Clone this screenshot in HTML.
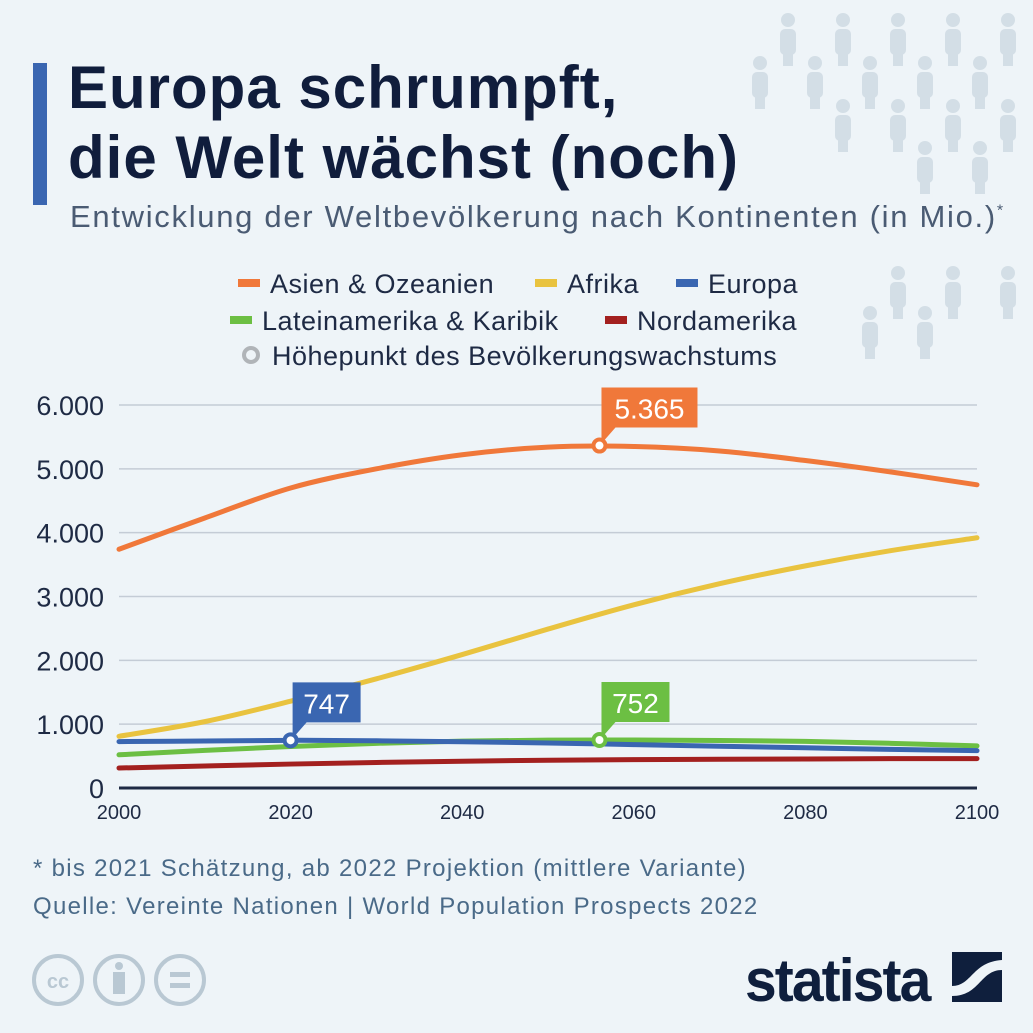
<!DOCTYPE html>
<html><head><meta charset="utf-8">
<style>
html,body{margin:0;padding:0;}
body{width:1033px;height:1033px;background:#eef4f8;position:relative;overflow:hidden;font-family:"Liberation Sans",sans-serif;}
.abs{position:absolute;}
</style></head>
<body>
<svg class="abs" style="left:0;top:0" width="1033" height="1033" id="people"></svg>
<div class="abs" style="left:33px;top:63px;width:14px;height:142px;background:#3a66b1"></div>
<div class="abs" style="left:68px;top:53px;font-size:60px;font-weight:bold;line-height:70px;color:#101d3c;letter-spacing:1px">Europa schrumpft,<br>die Welt wächst (noch)</div>
<div class="abs" style="left:70px;top:199px;font-size:31px;color:#4a5b73;letter-spacing:1.7px">Entwicklung der Weltbevölkerung nach Kontinenten (in Mio.)<sup style="font-size:16px">*</sup></div>

<svg class="abs" style="left:0;top:0" width="1033" height="1033" id="chart"></svg>

<div class="abs" style="left:33px;top:850px;font-size:24px;color:#4a6a88;line-height:38px;letter-spacing:1.3px">* bis 2021 Schätzung, ab 2022 Projektion (mittlere Variante)<br>Quelle: Vereinte Nationen | World Population Prospects 2022</div>

<svg class="abs" style="left:30px;top:952px" width="180" height="56">
 <g fill="none" stroke="#b9c8d3" stroke-width="4">
  <circle cx="28" cy="28" r="24"/><circle cx="89" cy="28" r="24"/><circle cx="150" cy="28" r="24"/>
 </g>
 <text x="28" y="36" font-size="20" font-weight="bold" fill="#b9c8d3" text-anchor="middle" font-family="Liberation Sans">cc</text>
 <circle cx="89" cy="14" r="4" fill="#b9c8d3"/><rect x="83" y="20" width="12" height="22" fill="#b9c8d3"/>
 <rect x="140" y="20" width="20" height="5" fill="#b9c8d3"/><rect x="140" y="31" width="20" height="5" fill="#b9c8d3"/>
</svg>
<div class="abs" style="left:745px;top:946px;font-size:60px;font-weight:bold;color:#0f1f3d;letter-spacing:-2px;transform:scaleX(0.95);transform-origin:left top">statista</div>
<svg class="abs" style="left:952px;top:952px" width="50" height="50">
 <rect width="50" height="50" fill="#0f1f3d"/>
 <path d="M0 34 C20 34 20 10 50 8 L50 18 C28 18 28 44 0 44Z" fill="#eef4f8"/>
</svg>

<script>
const pp=document.getElementById('people');
const people=[[788,32],[843,32],[898,32],[953,32],[1008,32],[760,75],[815,75],[870,75],[925,75],[980,75],[843,118],[898,118],[953,118],[1008,118],[925,160],[980,160],[898,285],[953,285],[1008,285],[870,325],[925,325]];
people.forEach(p=>{
 const g=document.createElementNS('http://www.w3.org/2000/svg','g');
 
 
 g.setAttribute('fill','#d3dee6');
 g.innerHTML=`<circle cx="${p[0]}" cy="${p[1]-12}" r="7"/><rect x="${p[0]-8}" y="${p[1]-3}" width="16" height="26" rx="5"/><rect x="${p[0]-5}" y="${p[1]+18}" width="10" height="16"/>`;
 pp.appendChild(g);
});

const years=[2000,2010,2020,2030,2040,2050,2060,2070,2080,2090,2100];
const asia=[3740,4230,4700,5000,5220,5340,5350,5280,5130,4950,4750];
const africa=[810,1040,1360,1710,2090,2490,2870,3200,3480,3720,3920];
const europe=[727,736,747,740,725,705,680,655,630,605,585];
const latam=[520,590,650,700,735,750,752,745,730,700,660];
const namerica=[313,345,375,400,420,435,445,450,455,460,460];
const yTicks=[0,1000,2000,3000,4000,5000,6000];
const yTickLabels=["0","1.000","2.000","3.000","4.000","5.000","6.000"];
const xTicks=[2000,2020,2040,2060,2080,2100];
const peakYears=[2056,2020,2056];
const peakValues=[5365,747,752];
const peakLabels=["5.365","747","752"];

const svg=document.getElementById('chart');
const NS='http://www.w3.org/2000/svg';
const X=y=>119+(y-2000)*(977-119)/100;
const Y=v=>788-v*(788-405)/6000;
function mk(t,a){const e=document.createElementNS(NS,t);for(const k in a)e.setAttribute(k,a[k]);svg.appendChild(e);return e;}

yTicks.forEach((t,i)=>{
 const l=mk('line',{x1:119,x2:977,y1:Y(t),y2:Y(t),stroke:t===0?'#1e2a44':'#c4ccd6','stroke-width':t===0?3:1.5});
 
 
 const tx=mk('text',{x:104,y:Y(t)+10,'font-size':27,fill:'#1e2a44','text-anchor':'end','font-family':'Liberation Sans'});
 tx.textContent=yTickLabels[i];
 
 
});
xTicks.forEach(t=>{
 const tx=mk('text',{x:X(t),y:819,'font-size':20,fill:'#1e2a44','text-anchor':'middle','font-family':'Liberation Sans'});
 tx.textContent=t;
 
 
});

function path(arr){
 const pts=years.map((y,i)=>[X(y),Y(arr[i])]);
 let d=`M${pts[0][0]},${pts[0][1]}`;
 for(let i=0;i<pts.length-1;i++){
  const p0=pts[Math.max(0,i-1)],p1=pts[i],p2=pts[i+1],p3=pts[Math.min(pts.length-1,i+2)];
  d+=` C${p1[0]+(p2[0]-p0[0])/6},${p1[1]+(p2[1]-p0[1])/6} ${p2[0]-(p3[0]-p1[0])/6},${p2[1]-(p3[1]-p1[1])/6} ${p2[0]},${p2[1]}`;
 }
 return d;
}
const series=[[namerica,'#a3201f','line-nordamerika'],[latam,'#6cbf43','line-lateinamerika'],[europe,'#3a66b1','line-europa'],[africa,'#e9c33f','line-afrika'],[asia,'#f0783a','line-asien']];
series.forEach(s=>{
 const p=mk('path',{d:path(s[0]),fill:'none',stroke:s[1],'stroke-width':5,'stroke-linecap':'round'});
 
 
});

const peakColors=['#f0783a','#3a66b1','#6cbf43'];
peakYears.forEach((yr,i)=>{
 const cx=X(yr),cy=Y(peakValues[i]);
 const w=peakLabels[i].length>3?96:68;
 const bx=cx+2,by=cy-58;
 const g=mk('path',{d:`M${bx},${by} h${w} v40 h${-(w-14)} l-14,16 Z`,fill:peakColors[i]});
 
 
 const t=mk('text',{x:bx+w/2,y:by+31,'font-size':28,fill:'#fff','text-anchor':'middle','font-family':'Liberation Sans'});
 t.textContent=peakLabels[i];
 
 
 const c=mk('circle',{cx:cx,cy:cy,r:6,fill:'#fff',stroke:peakColors[i],'stroke-width':4});
 
 
});

const legend=[["Asien & Ozeanien",'#f0783a',238,284],["Afrika",'#e9c33f',535,284],["Europa",'#3a66b1',676,284],["Lateinamerika & Karibik",'#6cbf43',230,321],["Nordamerika",'#a3201f',605,321]];
legend.forEach(l=>{
 const r=mk('rect',{x:l[2],y:l[3]-5,width:22,height:8,fill:l[1]});
 
 
 const t=mk('text',{x:l[2]+32,y:l[3]+9,'font-size':27,fill:'#1e2a44','font-family':'Liberation Sans','letter-spacing':0.5});
 t.textContent=l[0];
 
 
});
const lc=mk('circle',{cx:251,cy:355,r:7,fill:'none',stroke:'#b0b4b8','stroke-width':4});


const lt=mk('text',{x:272,y:365,'font-size':27,fill:'#1e2a44','font-family':'Liberation Sans','letter-spacing':0.5});
lt.textContent='Höhepunkt des Bevölkerungswachstums';


</script>
</body></html>
